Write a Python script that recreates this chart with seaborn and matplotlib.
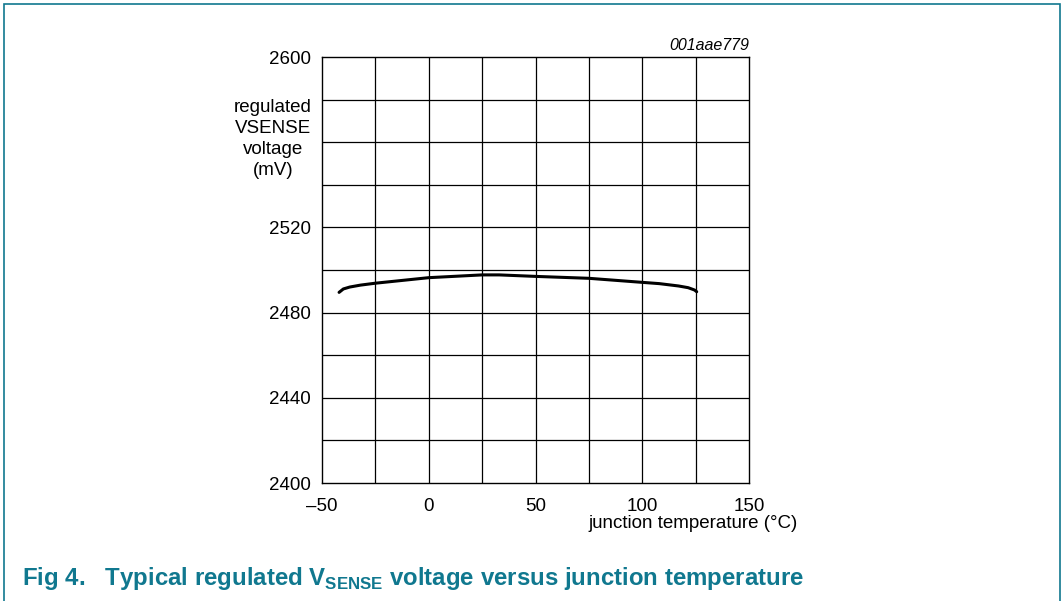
import numpy as np
import pandas as pd
import matplotlib
matplotlib.use("Agg")
import matplotlib.pyplot as plt
import seaborn as sns
from matplotlib.patches import Rectangle

# values
temp = [-42, -40, -37, -32, -25, 0, 25, 33, 50, 75, 100, 108, 117, 121.5, 124.5, 125.5]
vsense = [2489.5, 2491.1, 2492.0, 2492.9, 2493.8, 2496.4, 2497.7, 2497.7, 2497.0,
          2496.1, 2494.2, 2493.6, 2492.5, 2491.7, 2490.6, 2489.8]

x_ticks = [-50, 0, 50, 100, 150]
x_tick_labels = ["\u201350", "0", "50", "100", "150"]
y_ticks = [2400, 2440, 2480, 2520, 2600]
y_tick_labels = ["2400", "2440", "2480", "2520", "2600"]

df = pd.DataFrame({"temp": temp, "vsense": vsense})

sns.set_style("white")
plt.rcParams["font.family"] = ["Liberation Sans", "DejaVu Sans"]
plt.rcParams["text.color"] = "black"
plt.rcParams["mathtext.fontset"] = "custom"
plt.rcParams["mathtext.bf"] = "Liberation Sans:bold"
plt.rcParams["mathtext.rm"] = "Liberation Sans"

teal = "#10788f"

fig = plt.figure(figsize=(10.63, 6.01), dpi=100)
ax = fig.add_axes([322 / 1063, 1 - 483 / 601, 427 / 1063, 426 / 601])

# grid every 25 degC / 20 mV
for gx in np.arange(-25, 150, 25):
    ax.axvline(gx, color="black", lw=0.9, zorder=1)
for gy in np.arange(2420, 2600, 20):
    ax.axhline(gy, color="black", lw=0.9, zorder=1)

sns.lineplot(data=df, x="temp", y="vsense", ax=ax, color="black", lw=2.2,
             sort=False, zorder=3, solid_capstyle="round", solid_joinstyle="round")

ax.set_xlim(-50, 150)
ax.set_ylim(2400, 2600)
ax.set_xticks(x_ticks)
ax.set_xticklabels(x_tick_labels)
ax.set_yticks(y_ticks)
ax.set_yticklabels(y_tick_labels)
ax.tick_params(length=0, labelsize=13.5, colors="black")
ax.tick_params(axis="y", pad=8)
ax.tick_params(axis="x", pad=11)
ax.set_xlabel("")
ax.set_ylabel("")
for s in ax.spines.values():
    s.set_color("black")
    s.set_linewidth(1.0)

fig.text(273 / 1063, 1 - 139 / 601, "regulated\nVSENSE\nvoltage\n(mV)",
         ha="center", va="center", fontsize=13.5, linespacing=1.3, color="black")
fig.text(798 / 1063, 1 - 523 / 601, "junction temperature (\u00b0C)",
         ha="right", va="center", fontsize=13.5, color="black")
fig.text(749 / 1063, 1 - 45 / 601, "001aae779", ha="right", va="center",
         fontsize=11.5, style="italic", color="black")

fig.text(22 / 1063, 1 - 578 / 601,
         r"Fig 4.   Typical regulated V$_{\mathbf{SENSE}}$ voltage versus junction temperature",
         ha="left", va="center", fontsize=17.3, fontweight="bold", color=teal)

fig.patches.append(Rectangle((4 / 1063, -0.05), 1056 / 1063, 1.05 - 4 / 601,
                             transform=fig.transFigure, fill=False,
                             edgecolor=teal, lw=1.2))

fig.savefig("out.png", dpi=100)
